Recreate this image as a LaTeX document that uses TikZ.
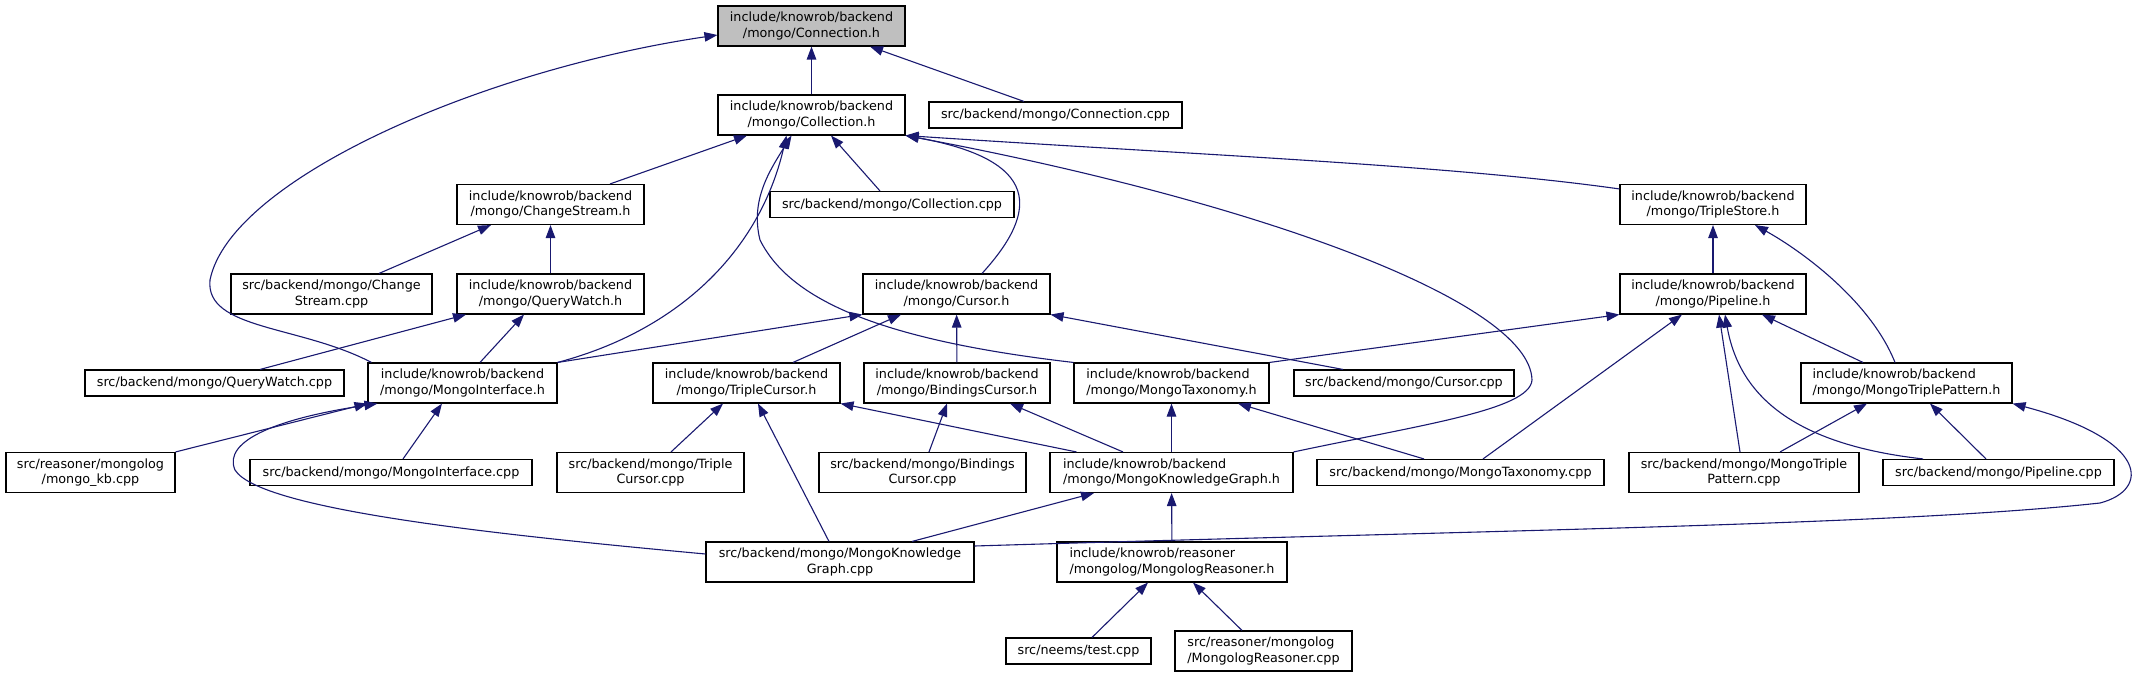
\documentclass[tikz,border=0pt]{standalone}
\usepackage{fontspec}
\setmainfont{DejaVu Sans}
\usepackage{tikz}
\usetikzlibrary{arrows.meta,positioning}
\definecolor{edgeblue}{HTML}{191970}
\definecolor{rootgray}{HTML}{BFBFBF}
\tikzset{
  filebox/.style={
    rectangle, draw=black, fill=white, line width=1.1pt,
    minimum height=#1, inner xsep=4pt, inner ysep=2pt,
    font=\fontsize{12.75}{15.3}\selectfont, align=center
  },
  filebox/.default=26pt,
  incl/.style={
    -{Triangle[length=13pt,width=9.5pt]}, line width=1.1pt, color=edgeblue
  },
}

\begin{document}
\begin{tikzpicture}[x=1pt, y=-1pt]
  \useasboundingbox (0,0) rectangle (2145,677);
  % top
  \node[filebox=40pt, fill=rootgray, minimum width=187pt] (conn-h) at (811.5,26) {include/knowrob/backend\\/mongo/Connection.h};
  \node[filebox=40pt, minimum width=187pt] (coll-h) at (811.5,115) {include/knowrob/backend\\/mongo/Collection.h};
  \node[filebox, minimum width=253pt] (conn-cpp) at (1055.5,115) {src/backend/mongo/Connection.cpp};
  % second level
  \node[filebox=40pt, minimum width=187pt] (chst-h) at (550.5,204.5) {include/knowrob/backend\\/mongo/ChangeStream.h};
  \node[filebox, minimum width=244pt] (coll-cpp) at (892,204.5) {src/backend/mongo/Collection.cpp};
  \node[filebox=40pt, minimum width=186pt] (tstore-h) at (1713,204.5) {include/knowrob/backend\\/mongo/TripleStore.h};
  \node[filebox=40pt, minimum width=201pt] (chst-cpp) at (331.5,294) {src/backend/mongo/Change\\Stream.cpp};
  \node[filebox=40pt, minimum width=187pt] (qw-h) at (550.5,294) {include/knowrob/backend\\/mongo/QueryWatch.h};
  \node[filebox=40pt, minimum width=187pt] (cursor-h) at (956.5,294) {include/knowrob/backend\\/mongo/Cursor.h};
  \node[filebox=40pt, minimum width=186pt] (pipe-h) at (1713,294) {include/knowrob/backend\\/mongo/Pipeline.h};
  % middle
  \node[filebox, minimum width=259pt] (qw-cpp) at (214.5,383) {src/backend/mongo/QueryWatch.cpp};
  \node[filebox=40pt, minimum width=189pt] (mi-h) at (462.5,383) {include/knowrob/backend\\/mongo/MongoInterface.h};
  \node[filebox=40pt, minimum width=187pt] (tc-h) at (746.5,383) {include/knowrob/backend\\/mongo/TripleCursor.h};
  \node[filebox=40pt, minimum width=186pt] (bc-h) at (957,383) {include/knowrob/backend\\/mongo/BindingsCursor.h};
  \node[filebox=40pt, minimum width=195pt, align=left] (mt-h) at (1171.5,383) {include/knowrob/backend\\/mongo/MongoTaxonomy.h};
  \node[filebox, minimum width=220pt] (cursor-cpp) at (1404,383) {src/backend/mongo/Cursor.cpp};
  \node[filebox=40pt, minimum width=211pt, align=left] (mtp-h) at (1906.5,383) {include/knowrob/backend\\/mongo/MongoTriplePattern.h};
  \node[filebox=40pt, minimum width=169pt] (kb-cpp) at (90.5,472.5) {src/reasoner/mongolog\\/mongo\_kb.cpp};
  \node[filebox, minimum width=282pt] (mi-cpp) at (391,472.5) {src/backend/mongo/MongoInterface.cpp};
  \node[filebox=40pt, minimum width=187pt] (tc-cpp) at (650.5,472.5) {src/backend/mongo/Triple\\Cursor.cpp};
  \node[filebox=40pt, minimum width=207pt] (bc-cpp) at (922.5,472.5) {src/backend/mongo/Bindings\\Cursor.cpp};
  \node[filebox=40pt, minimum width=243pt, align=left] (mkg-h) at (1171.5,472.5) {include/knowrob/backend\\/mongo/MongoKnowledgeGraph.h};
  \node[filebox, minimum width=287pt] (mt-cpp) at (1460.5,472.5) {src/backend/mongo/MongoTaxonomy.cpp};
  \node[filebox=40pt, minimum width=230pt] (mtp-cpp) at (1744,472.5) {src/backend/mongo/MongoTriple\\Pattern.cpp};
  \node[filebox, minimum width=231pt] (pipe-cpp) at (1998.5,472.5) {src/backend/mongo/Pipeline.cpp};
  % bottom
  \node[filebox=40pt, minimum width=268pt] (mkg-cpp) at (840,562) {src/backend/mongo/MongoKnowledge\\Graph.cpp};
  \node[filebox=40pt, minimum width=230pt, align=left] (mr-h) at (1172,562) {include/knowrob/reasoner\\/mongolog/MongologReasoner.h};
  \node[filebox, minimum width=145pt] (test-cpp) at (1078.5,651) {src/neems/test.cpp};
  \node[filebox=40pt, minimum width=177pt, align=left] (mr-cpp) at (1263.5,651) {src/reasoner/mongolog\\/MongologReasoner.cpp};

  % straight down the middle
  \foreach \a/\b in {coll-h/conn-h, qw-h/chst-h, bc-h/cursor-h, pipe-h/tstore-h, mkg-h/mt-h, mr-h/mkg-h}
    { \draw[incl] (\a) -- (\b); }

  % Connection.h
  \draw[incl] ([xshift=-31.5pt]conn-cpp.north) -- ([xshift=58.5pt]conn-h.south);
  \draw[incl] ([xshift=4pt]mi-h.north west) .. controls (300,325) and (205,330) .. (210,280)
    .. controls (230,180) and (480,70) .. ([yshift=-9pt]conn-h.west);
  % Collection.h
  \draw[incl] ([xshift=59.5pt]chst-h.north) -- ([xshift=-64.5pt]coll-h.south);
  \draw[incl] ([xshift=-12pt]coll-cpp.north) -- ([xshift=19.5pt]coll-h.south);
  \draw[incl] ([yshift=-5pt]tstore-h.north west) .. controls (1450,165) and (1200,155) .. (coll-h.south east);
  \draw[incl] (mkg-h.north east) .. controls (1420,425) and (1530,410) .. (1532,380)
    .. controls (1530,300) and (1250,200) .. (coll-h.south east);
  \draw[incl] ([xshift=25.5pt]cursor-h.north) .. controls (1040,210) and (1040,160) .. (coll-h.south east);
  \draw[incl] (mi-h.north east) .. controls (680,330) and (760,250) .. ([xshift=-25pt]coll-h.south);
  \draw[incl] (mt-h.north west) .. controls (880,340) and (790,300) .. (760,240)
    .. controls (750,200) and (770,170) .. ([xshift=-20pt]coll-h.south);
  % ChangeStream.h, QueryWatch.h
  \draw[incl] ([xshift=47.5pt]chst-cpp.north) -- ([xshift=-59.5pt]chst-h.south);
  \draw[incl] ([xshift=45.5pt]qw-cpp.north) -- ([xshift=-84.5pt]qw-h.south);
  \draw[incl] ([xshift=17.5pt]mi-h.north) -- ([xshift=-26.5pt]qw-h.south);
  % Cursor.h
  \draw[incl] (mi-h.north east) -- (cursor-h.south west);
  \draw[incl] ([xshift=46.5pt]tc-h.north) -- ([xshift=-55.5pt]cursor-h.south);
  \draw[incl] ([xshift=-61pt]cursor-cpp.north) -- (cursor-h.south east);
  % TripleStore.h, Pipeline.h
  \draw[incl] ([xshift=-11.5pt]mtp-h.north) .. controls (1870,300) and (1800,250) .. ([xshift=42pt]tstore-h.south);
  \draw[incl] (mt-h.north east) -- (pipe-h.south west);
  \draw[incl] ([xshift=22.5pt]mt-cpp.north) -- ([xshift=-31pt]pipe-h.south);
  \draw[incl] ([xshift=-4pt]mtp-cpp.north) -- ([xshift=6pt]pipe-h.south);
  \draw[incl] ([xshift=-75.5pt]pipe-cpp.north) .. controls (1800,445) and (1740,400) .. ([xshift=12pt]pipe-h.south);
  \draw[incl] ([xshift=-43.5pt]mtp-h.north) -- ([xshift=49pt]pipe-h.south);
  % MongoTriplePattern.h
  \draw[incl] ([xshift=36pt]mtp-cpp.north) -- ([xshift=-39.5pt]mtp-h.south);
  \draw[incl] ([xshift=-12.5pt]pipe-cpp.north) -- ([xshift=23.5pt]mtp-h.south);
  \draw[incl] ([yshift=16pt]mkg-cpp.east) .. controls (1500,530) and (1900,525) .. (2100,503)
    .. controls (2150,490) and (2150,440) .. (mtp-h.south east);
  % MongoInterface.h
  \draw[incl] (kb-cpp.north east) -- (mi-h.south west);
  \draw[incl] ([xshift=12pt]mi-cpp.north) -- ([xshift=-20.5pt]mi-h.south);
  \draw[incl] ([yshift=8pt]mkg-cpp.west) .. controls (500,535) and (260,510) .. (235,470)
    .. controls (222,440) and (280,418) .. ([xshift=10pt]mi-h.south west);
  % TripleCursor.h, BindingsCursor.h
  \draw[incl] ([xshift=20.5pt]tc-cpp.north) -- ([xshift=-23.5pt]tc-h.south);
  \draw[incl] ([xshift=-11pt]mkg-cpp.north) -- ([xshift=11.5pt]tc-h.south);
  \draw[incl] ([xshift=27pt]mkg-h.north west) -- (tc-h.south east);
  \draw[incl] ([xshift=6.5pt]bc-cpp.north) -- ([xshift=-10pt]bc-h.south);
  \draw[incl] ([xshift=-48.5pt]mkg-h.north) -- ([xshift=53pt]bc-h.south);
  % MongoTaxonomy.h, MongoKnowledgeGraph.h
  \draw[incl] ([xshift=-36.5pt]mt-cpp.north) -- ([xshift=66.5pt]mt-h.south);
  \draw[incl] ([xshift=72pt]mkg-cpp.north) -- ([xshift=-77.5pt]mkg-h.south);
  % MongologReasoner.h
  \draw[incl] ([xshift=13.5pt]test-cpp.north) -- ([xshift=-24pt]mr-h.south);
  \draw[incl] ([xshift=-21.5pt]mr-cpp.north) -- ([xshift=21pt]mr-h.south);
\end{tikzpicture}
\end{document}
